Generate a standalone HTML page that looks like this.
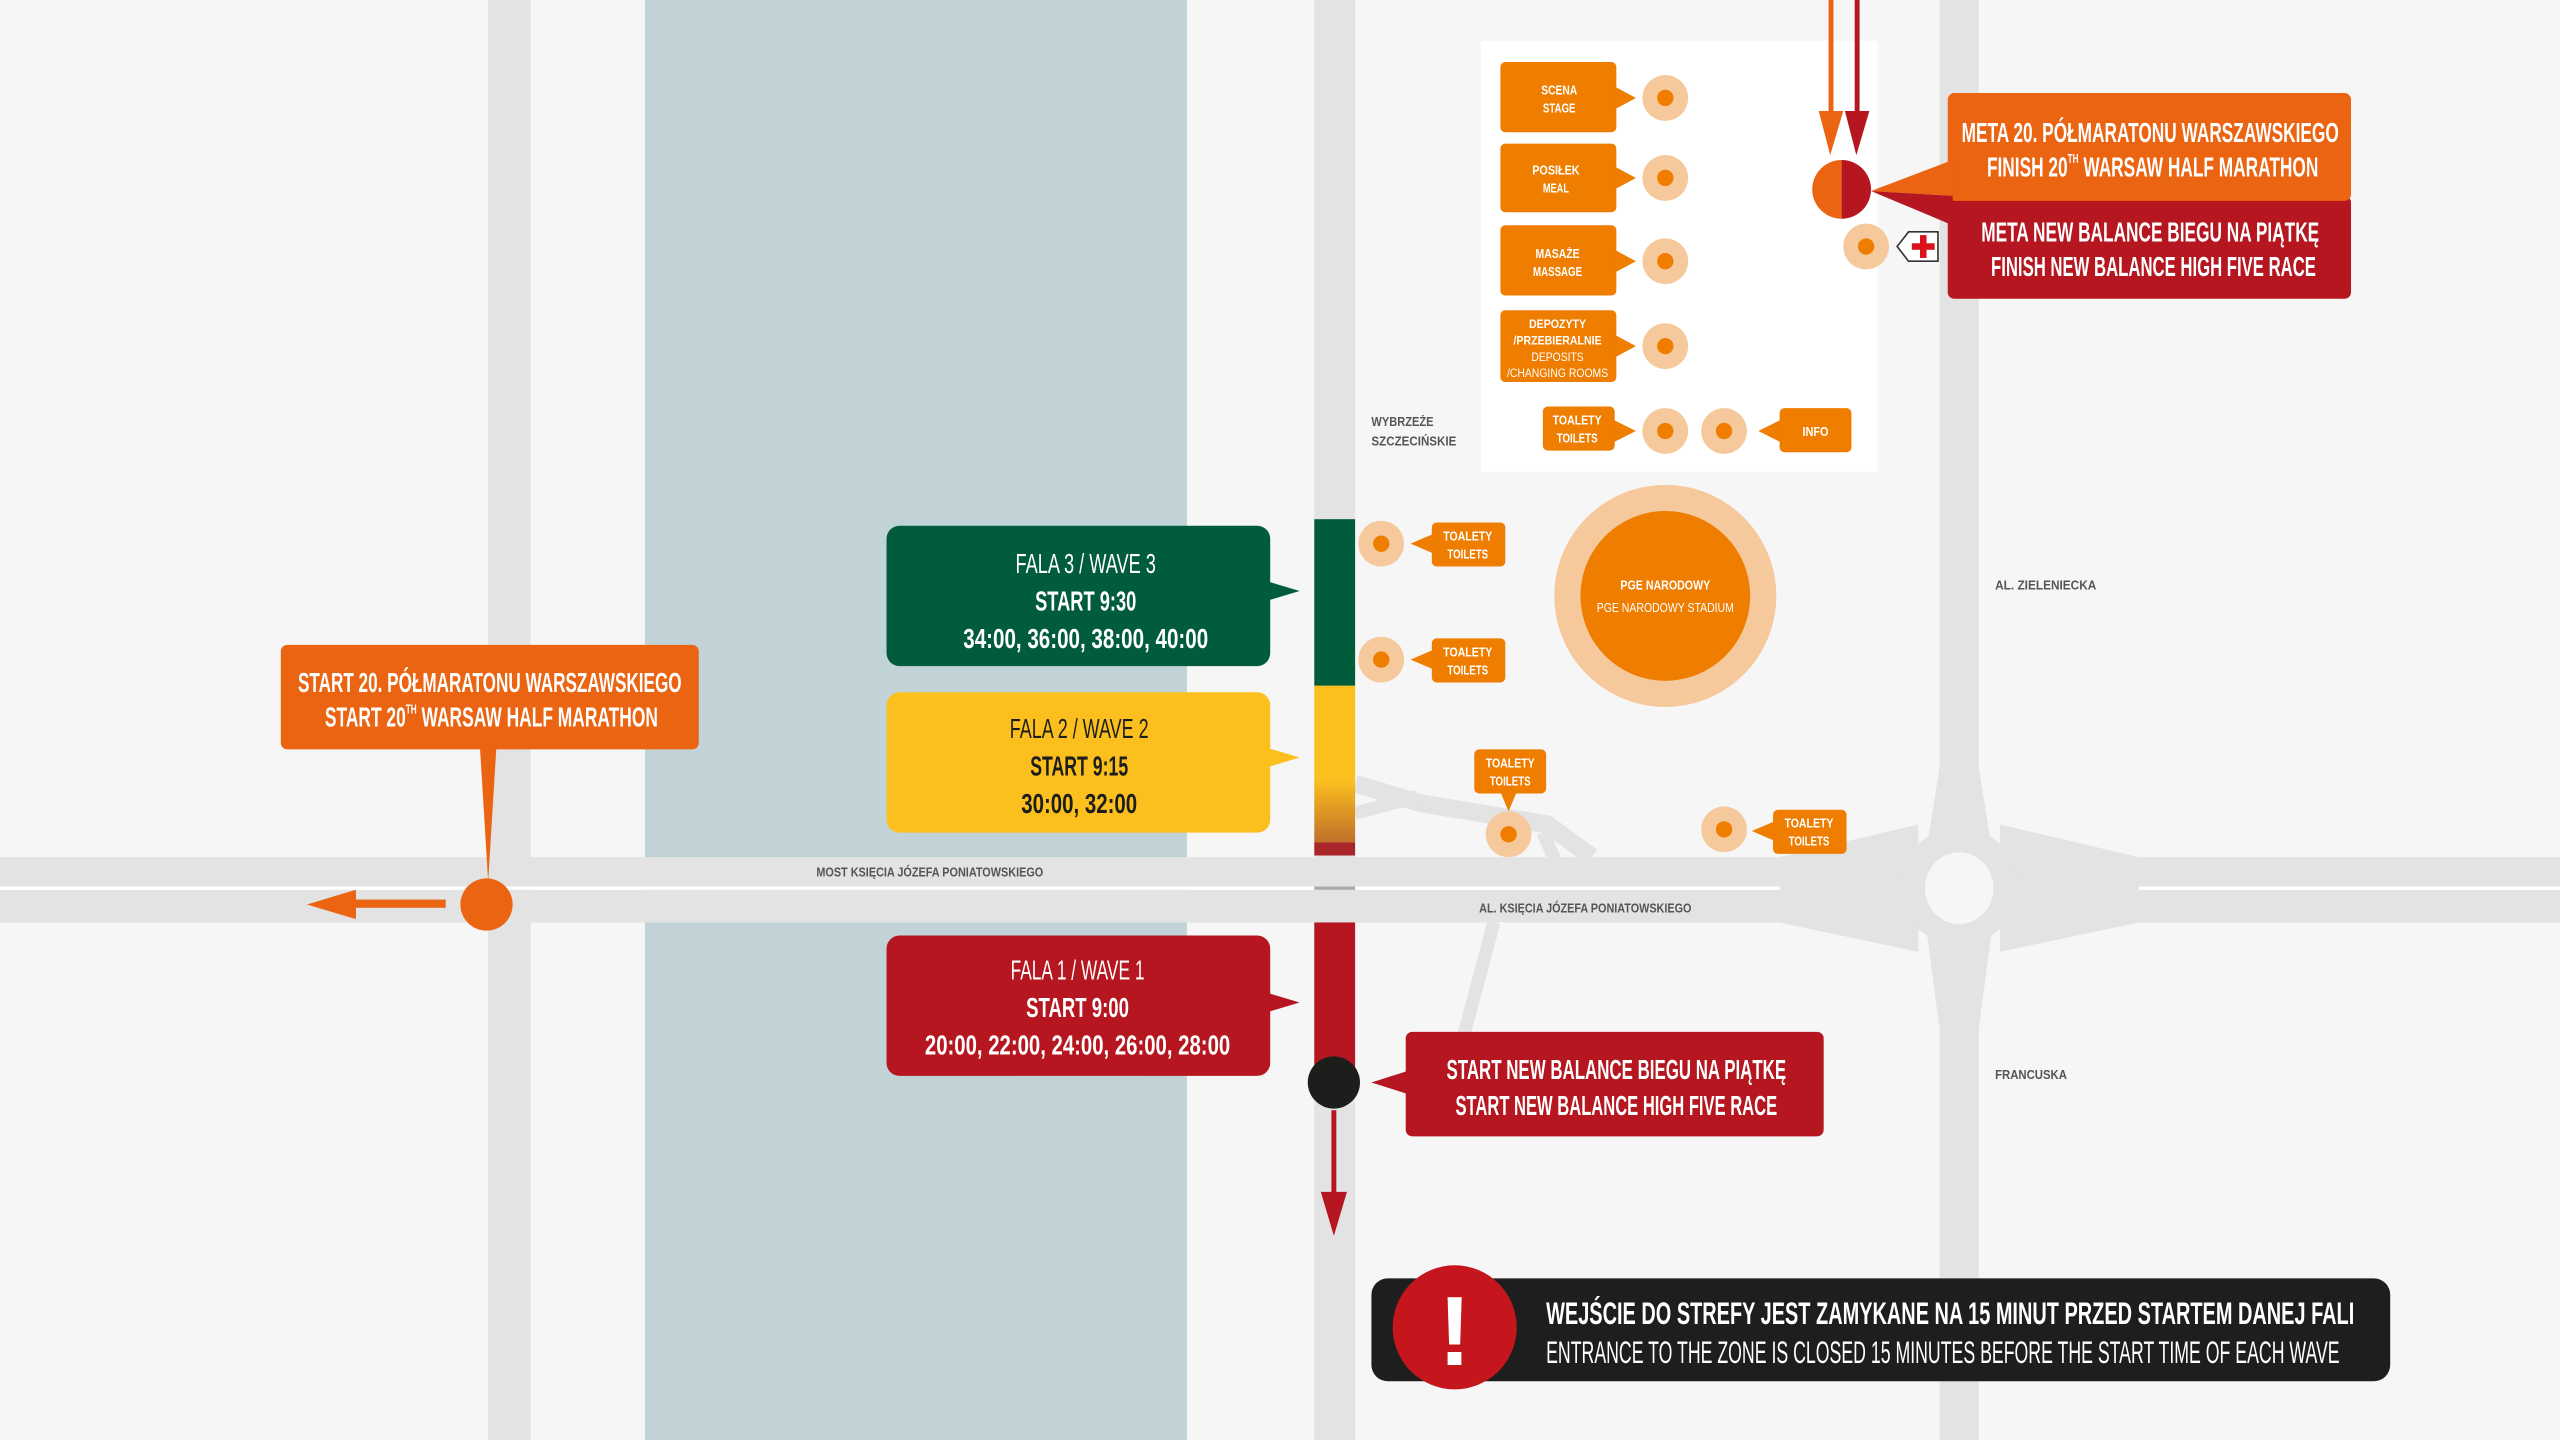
<!DOCTYPE html>
<html><head><meta charset="utf-8"><style>
html,body{margin:0;padding:0;background:#f6f6f6;}
svg{display:block;}
text{font-family:"Liberation Sans Narrow","Liberation Sans",sans-serif;font-weight:bold;}
</style></head><body>
<svg width="2560" height="1440" viewBox="0 0 1568 882" xmlns="http://www.w3.org/2000/svg">
<defs>
<linearGradient id="yr" x1="0" y1="0" x2="0" y2="1">
<stop offset="0" stop-color="#fcc01e"/><stop offset="0.6" stop-color="#fcc01e"/><stop offset="1" stop-color="#c0702a"/>
</linearGradient>
</defs>
<rect width="1568" height="882" fill="#f6f6f6"/>
<!-- river -->
<rect x="395" y="0" width="332" height="882" fill="#c1d3d7"/>
<!-- vertical roads -->
<rect x="299" y="0" width="26" height="882" fill="#e3e3e3"/>
<rect x="805" y="0" width="25" height="882" fill="#e3e3e3"/>
<rect x="1188" y="0" width="24" height="882" fill="#e3e3e3"/>
<!-- diagonal roads -->
<g stroke="#e3e3e3" fill="none" stroke-linecap="butt">
<path d="M830 480 L870 492 L948 505 L975 525" stroke-width="11"/>
<path d="M830 498 L868 488" stroke-width="8"/>
<path d="M945 510 L952 526" stroke-width="8"/>
<path d="M915 565 L895 640" stroke-width="8"/>
</g>
<!-- horizontal roads -->
<rect x="0" y="525" width="1568" height="18" fill="#e3e3e3"/>
<rect x="0" y="545" width="1568" height="20" fill="#e3e3e3"/>
<rect x="0" y="543" width="1568" height="2" fill="#ffffff"/>
<!-- roundabout flares -->
<polygon points="1090,525 1175,505 1175,583 1090,565" fill="#e3e3e3"/>
<polygon points="1310,525 1225,505 1225,583 1310,565" fill="#e3e3e3"/>
<polygon points="1188,470 1212,470 1220,520 1180,520" fill="#e3e3e3"/>
<polygon points="1180,570 1220,570 1212,630 1188,630" fill="#e3e3e3"/>
<circle cx="1200" cy="543" r="36" fill="#e3e3e3"/>
<ellipse cx="1200" cy="544" rx="21" ry="22" fill="#f6f6f6"/>
<!-- road labels -->
<g fill="#555" font-size="8">
<text x="500" y="537" textLength="139" lengthAdjust="spacingAndGlyphs">MOST KSIĘCIA JÓZEFA PONIATOWSKIEGO</text>
<text x="906" y="559" textLength="130" lengthAdjust="spacingAndGlyphs">AL. KSIĘCIA JÓZEFA PONIATOWSKIEGO</text>
<text x="840" y="261" textLength="38" lengthAdjust="spacingAndGlyphs">WYBRZEŻE</text>
<text x="840" y="273" textLength="52" lengthAdjust="spacingAndGlyphs">SZCZECIŃSKIE</text>
<text x="1222" y="361" textLength="62" lengthAdjust="spacingAndGlyphs">AL. ZIELENIECKA</text>
<text x="1222" y="661" textLength="44" lengthAdjust="spacingAndGlyphs">FRANCUSKA</text>
</g>
<!-- route bar -->
<rect x="805" y="318" width="25" height="102" fill="#005c3a"/>
<rect x="805" y="420" width="25" height="96" fill="url(#yr)"/>
<rect x="805" y="516" width="25" height="8" fill="#a8262a"/>
<rect x="805" y="543" width="25" height="2" fill="#aaa"/>
<rect x="805" y="565" width="25" height="100" fill="#b5161f"/>
<line x1="817" y1="680" x2="817" y2="735" stroke="#b5161f" stroke-width="3"/>
<polygon points="809,730 825,730 817,757" fill="#b5161f"/>
<circle cx="817" cy="663" r="16" fill="#1d1d1b"/>
<!-- wave boxes -->
<rect x="543" y="322" width="235" height="86" rx="8" fill="#005c3a"/>
<polygon points="776,356 796,362 776,368" fill="#005c3a"/>
<text x="665" y="351" fill="#fff" font-size="17" text-anchor="middle" textLength="86" lengthAdjust="spacingAndGlyphs" style="font-weight:normal">FALA 3 / WAVE 3</text>
<text x="665" y="374" fill="#fff" font-size="17" text-anchor="middle" textLength="62" lengthAdjust="spacingAndGlyphs">START 9:30</text>
<text x="665" y="397" fill="#fff" font-size="17" text-anchor="middle" textLength="150" lengthAdjust="spacingAndGlyphs">34:00, 36:00, 38:00, 40:00</text>

<rect x="543" y="424" width="235" height="86" rx="8" fill="#fcc01e"/>
<polygon points="776,458 796,464 776,470" fill="#fcc01e"/>
<text x="661" y="452" fill="#1d1d1b" font-size="17" text-anchor="middle" textLength="85" lengthAdjust="spacingAndGlyphs" style="font-weight:normal">FALA 2 / WAVE 2</text>
<text x="661" y="475" fill="#1d1d1b" font-size="17" text-anchor="middle" textLength="60" lengthAdjust="spacingAndGlyphs">START 9:15</text>
<text x="661" y="498" fill="#1d1d1b" font-size="17" text-anchor="middle" textLength="71" lengthAdjust="spacingAndGlyphs">30:00, 32:00</text>

<rect x="543" y="573" width="235" height="86" rx="8" fill="#b5161f"/>
<polygon points="776,608 796,614 776,620" fill="#b5161f"/>
<text x="660" y="600" fill="#fff" font-size="17" text-anchor="middle" textLength="82" lengthAdjust="spacingAndGlyphs" style="font-weight:normal">FALA 1 / WAVE 1</text>
<text x="660" y="623" fill="#fff" font-size="17" text-anchor="middle" textLength="63" lengthAdjust="spacingAndGlyphs">START 9:00</text>
<text x="660" y="646" fill="#fff" font-size="17" text-anchor="middle" textLength="187" lengthAdjust="spacingAndGlyphs">20:00, 22:00, 24:00, 26:00, 28:00</text>

<!-- start half marathon -->
<rect x="172" y="395" width="256" height="64" rx="4" fill="#ea6411"/>
<polygon points="294,458 304,458 299,540" fill="#ea6411"/>
<circle cx="298" cy="554" r="16" fill="#ea6411"/>
<rect x="210" y="551" width="63" height="5" fill="#ea6411"/>
<polygon points="188,554 218,545 218,563" fill="#ea6411"/>
<text x="300" y="424" fill="#fff" font-size="17" text-anchor="middle" textLength="235" lengthAdjust="spacingAndGlyphs">START 20. PÓŁMARATONU WARSZAWSKIEGO</text>
<text x="199" y="445" fill="#fff" font-size="17" textLength="204" lengthAdjust="spacingAndGlyphs">START 20<tspan font-size="8" dy="-8">TH</tspan><tspan dy="8"> WARSAW HALF MARATHON</tspan></text>

<!-- start NB -->
<rect x="861" y="632" width="256" height="64" rx="4" fill="#b5161f"/>
<polygon points="862,656 840,663 862,670" fill="#b5161f"/>
<text x="990" y="661" fill="#fff" font-size="17" text-anchor="middle" textLength="208" lengthAdjust="spacingAndGlyphs">START NEW BALANCE BIEGU NA PIĄTKĘ</text>
<text x="990" y="683" fill="#fff" font-size="17" text-anchor="middle" textLength="197" lengthAdjust="spacingAndGlyphs">START NEW BALANCE HIGH FIVE RACE</text>

<!-- legend box -->
<rect x="907" y="25" width="243" height="264" fill="#fff"/>
<g font-size="8" fill="#fff" text-anchor="middle">
<rect x="919" y="38" width="71" height="43" rx="3" fill="#ef7d00"/><polygon points="989,53 1002,60 989,67" fill="#ef7d00"/>
<text x="955" y="58" textLength="22" lengthAdjust="spacingAndGlyphs">SCENA</text><text x="955" y="69" textLength="20" lengthAdjust="spacingAndGlyphs">STAGE</text>
<rect x="919" y="88" width="71" height="42" rx="3" fill="#ef7d00"/><polygon points="989,102 1002,109 989,116" fill="#ef7d00"/>
<text x="953" y="107" textLength="29" lengthAdjust="spacingAndGlyphs">POSIŁEK</text><text x="953" y="118" textLength="16" lengthAdjust="spacingAndGlyphs">MEAL</text>
<rect x="919" y="138" width="71" height="43" rx="3" fill="#ef7d00"/><polygon points="989,153 1002,160 989,167" fill="#ef7d00"/>
<text x="954" y="158" textLength="27" lengthAdjust="spacingAndGlyphs">MASAŻE</text><text x="954" y="169" textLength="30" lengthAdjust="spacingAndGlyphs">MASSAGE</text>
<rect x="919" y="190" width="71" height="44" rx="3" fill="#ef7d00"/><polygon points="989,205 1002,212 989,219" fill="#ef7d00"/>
<text x="954" y="201" font-size="7.5" textLength="35" lengthAdjust="spacingAndGlyphs">DEPOZYTY</text>
<text x="954" y="211" font-size="7.5" textLength="54" lengthAdjust="spacingAndGlyphs">/PRZEBIERALNIE</text>
<text x="954" y="221" font-size="7.5" style="font-weight:normal" textLength="32" lengthAdjust="spacingAndGlyphs">DEPOSITS</text>
<text x="954" y="231" font-size="7.5" style="font-weight:normal" textLength="62" lengthAdjust="spacingAndGlyphs">/CHANGING ROOMS</text>
<rect x="945" y="249" width="44" height="27" rx="3" fill="#ef7d00"/><polygon points="988,257 1002,264 988,271" fill="#ef7d00"/>
<text x="966" y="260" textLength="30" lengthAdjust="spacingAndGlyphs">TOALETY</text><text x="966" y="271" textLength="25" lengthAdjust="spacingAndGlyphs">TOILETS</text>
<rect x="1090" y="250" width="44" height="27" rx="3" fill="#ef7d00"/><polygon points="1091,257 1077,264 1091,271" fill="#ef7d00"/>
<text x="1112" y="267" textLength="16" lengthAdjust="spacingAndGlyphs">INFO</text>
</g>
<g>
<circle cx="1020" cy="60" r="14" fill="#f5c99b"/><circle cx="1020" cy="60" r="5" fill="#ef7d00"/>
<circle cx="1020" cy="109" r="14" fill="#f5c99b"/><circle cx="1020" cy="109" r="5" fill="#ef7d00"/>
<circle cx="1020" cy="160" r="14" fill="#f5c99b"/><circle cx="1020" cy="160" r="5" fill="#ef7d00"/>
<circle cx="1020" cy="212" r="14" fill="#f5c99b"/><circle cx="1020" cy="212" r="5" fill="#ef7d00"/>
<circle cx="1020" cy="264" r="14" fill="#f5c99b"/><circle cx="1020" cy="264" r="5" fill="#ef7d00"/>
<circle cx="1056" cy="264" r="14" fill="#f5c99b"/><circle cx="1056" cy="264" r="5" fill="#ef7d00"/>
<circle cx="1143" cy="151" r="14" fill="#f5c99b"/><circle cx="1143" cy="151" r="5" fill="#ef7d00"/>
</g>
<!-- medical -->
<path d="M1169 142 L1187 142 L1187 160 L1169 160 L1162 151 Z" fill="#fff" stroke="#333" stroke-width="1"/>
<rect x="1176" y="144" width="4" height="14" fill="#d8121b"/><rect x="1171" y="149" width="14" height="4" fill="#d8121b"/>
<!-- finish arrows -->
<rect x="1120" y="0" width="3" height="72" fill="#ea6411"/>
<polygon points="1114,68 1129,68 1121,95" fill="#ea6411"/>
<rect x="1136" y="0" width="3" height="72" fill="#b5161f"/>
<polygon points="1130,68 1145,68 1137,95" fill="#b5161f"/>
<!-- finish dot -->
<path d="M1128 98 A18 18 0 0 0 1128 134 Z" fill="#ea6411"/>
<path d="M1128 98 A18 18 0 0 1 1128 134 Z" fill="#b5161f"/>
<!-- meta boxes -->
<rect x="1193" y="120" width="247" height="63" rx="4" fill="#b5161f"/>
<rect x="1193" y="57" width="247" height="66" rx="4" fill="#ea6411"/>
<polygon points="1196,98 1146,117 1196,120" fill="#ea6411"/>
<polygon points="1196,120 1146,117 1196,138" fill="#b5161f"/>
<text x="1317" y="87" fill="#fff" font-size="17" text-anchor="middle" textLength="231" lengthAdjust="spacingAndGlyphs">META 20. PÓŁMARATONU WARSZAWSKIEGO</text>
<text x="1217" y="108" fill="#fff" font-size="17" textLength="203" lengthAdjust="spacingAndGlyphs">FINISH 20<tspan font-size="8" dy="-8">TH</tspan><tspan dy="8"> WARSAW HALF MARATHON</tspan></text>
<text x="1317" y="148" fill="#fff" font-size="17" text-anchor="middle" textLength="207" lengthAdjust="spacingAndGlyphs">META NEW BALANCE BIEGU NA PIĄTKĘ</text>
<text x="1319" y="169" fill="#fff" font-size="17" text-anchor="middle" textLength="199" lengthAdjust="spacingAndGlyphs">FINISH NEW BALANCE HIGH FIVE RACE</text>
<!-- stadium -->
<circle cx="1020" cy="365" r="68" fill="#f5c99b"/>
<circle cx="1020" cy="365" r="52" fill="#ef7d00"/>
<text x="1020" y="361" fill="#fff" font-size="8" text-anchor="middle" textLength="55" lengthAdjust="spacingAndGlyphs">PGE NARODOWY</text>
<text x="1020" y="375" fill="#fff" font-size="8" text-anchor="middle" textLength="84" lengthAdjust="spacingAndGlyphs" style="font-weight:normal">PGE NARODOWY STADIUM</text>
<!-- toilets on map -->
<g font-size="8" fill="#fff" text-anchor="middle">
<circle cx="846" cy="333" r="14" fill="#f5c99b"/><circle cx="846" cy="333" r="5" fill="#ef7d00"/>
<rect x="877" y="320" width="45" height="27" rx="3" fill="#ef7d00"/><polygon points="878,327 864,333 878,339" fill="#ef7d00"/>
<text x="899" y="331" textLength="30" lengthAdjust="spacingAndGlyphs">TOALETY</text><text x="899" y="342" textLength="25" lengthAdjust="spacingAndGlyphs">TOILETS</text>
<circle cx="846" cy="404" r="14" fill="#f5c99b"/><circle cx="846" cy="404" r="5" fill="#ef7d00"/>
<rect x="877" y="391" width="45" height="27" rx="3" fill="#ef7d00"/><polygon points="878,398 864,404 878,410" fill="#ef7d00"/>
<text x="899" y="402" textLength="30" lengthAdjust="spacingAndGlyphs">TOALETY</text><text x="899" y="413" textLength="25" lengthAdjust="spacingAndGlyphs">TOILETS</text>
<circle cx="924" cy="511" r="14" fill="#f5c99b"/><circle cx="924" cy="511" r="5" fill="#ef7d00"/>
<rect x="903" y="459" width="44" height="27" rx="3" fill="#ef7d00"/><polygon points="919,485 929,485 924,497" fill="#ef7d00"/>
<text x="925" y="470" textLength="30" lengthAdjust="spacingAndGlyphs">TOALETY</text><text x="925" y="481" textLength="25" lengthAdjust="spacingAndGlyphs">TOILETS</text>
<circle cx="1056" cy="508" r="14" fill="#f5c99b"/><circle cx="1056" cy="508" r="5" fill="#ef7d00"/>
<rect x="1086" y="496" width="45" height="27" rx="3" fill="#ef7d00"/><polygon points="1087,503 1073,509 1087,515" fill="#ef7d00"/>
<text x="1108" y="507" textLength="30" lengthAdjust="spacingAndGlyphs">TOALETY</text><text x="1108" y="518" textLength="25" lengthAdjust="spacingAndGlyphs">TOILETS</text>
</g>
<!-- warning -->
<rect x="840" y="783" width="624" height="63" rx="10" fill="#1e1e1e"/>
<circle cx="891" cy="813" r="38" fill="#c4161c"/>
<text x="891" y="836" fill="#fff" font-size="60" text-anchor="middle">!</text>
<text x="947" y="811" fill="#fff" font-size="19" textLength="495" lengthAdjust="spacingAndGlyphs">WEJŚCIE DO STREFY JEST ZAMYKANE NA 15 MINUT PRZED STARTEM DANEJ FALI</text>
<text x="947" y="835" fill="#fff" font-size="19" textLength="486" lengthAdjust="spacingAndGlyphs" style="font-weight:normal">ENTRANCE TO THE ZONE IS CLOSED 15 MINUTES BEFORE THE START TIME OF EACH WAVE</text>
</svg>
</body></html>
